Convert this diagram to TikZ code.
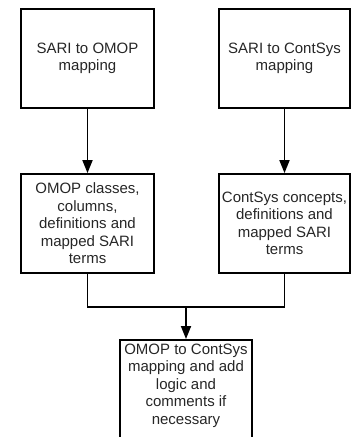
\documentclass[tikz,border=0pt]{standalone}
\usepackage{fontspec}
\setmainfont{Liberation Sans}
\usetikzlibrary{arrows.meta}
\begin{document}
\begin{tikzpicture}[x=1pt,y=1pt,
  box/.style={draw=black, line width=1.8pt, align=center, inner sep=0pt,
    font=\fontsize{15}{17.5}\selectfont, text=black!85},
  conn/.style={line width=1.8pt, draw=black},
  arr/.style={conn, -{Triangle[length=13pt,width=10pt]}}]
\useasboundingbox (0,0) rectangle (351,-437);
\clip (0,0) rectangle (351,-437);
\node[box, minimum width=133, minimum height=99] (b1) at (87.5,-58.5) {SARI to OMOP\\mapping};
\node[box, minimum width=131, minimum height=99] (b2) at (284.5,-58.5) {SARI to ContSys\\mapping};
\node[box, minimum width=133, minimum height=99] (b3) at (87.5,-223.5) {OMOP classes,\\columns,\\definitions and\\mapped SARI\\terms};
\node[box, minimum width=131, minimum height=99] (b4) at (284.5,-223.5) {ContSys concepts,\\definitions and\\mapped SARI\\terms};
\node[box, minimum width=132, minimum height=140, anchor=north] (b5) at (186,-339) {};
\node[box, draw=none, anchor=north] (t5) at (186,-343) {OMOP to ContSys\\mapping and add\\logic and\\comments if\\necessary};
\coordinate (j) at (186,-307);
\draw[arr] (b1) -- (b3);
\draw[arr] (b2) -- (b4);
\draw[conn] (b3.south) |- (j) -| (b4.south);
\draw[arr] (j) -- (b5.north);
\end{tikzpicture}
\end{document}
